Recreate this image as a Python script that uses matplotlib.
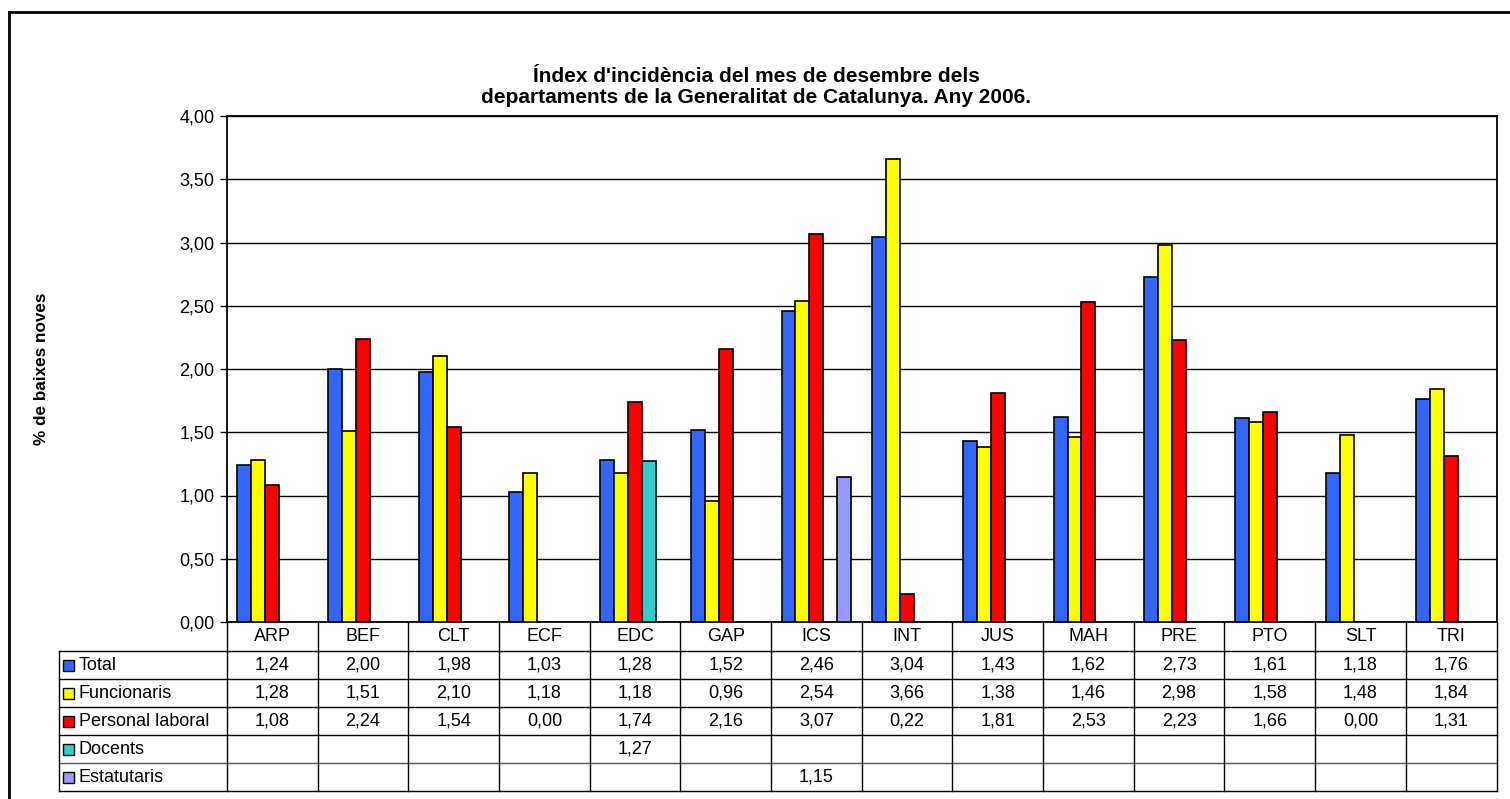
import matplotlib
matplotlib.use("Agg")
import matplotlib.pyplot as plt
from matplotlib.lines import Line2D
from matplotlib.patches import Rectangle

plt.rcParams['font.family'] = ['Liberation Sans', 'DejaVu Sans']

categories = ["ARP", "BEF", "CLT", "ECF", "EDC", "GAP", "ICS", "INT", "JUS", "MAH", "PRE", "PTO", "SLT", "TRI"]
series_names = ["Total", "Funcionaris", "Personal laboral", "Docents", "Estatutaris"]
total = [1.24, 2.00, 1.98, 1.03, 1.28, 1.52, 2.46, 3.04, 1.43, 1.62, 2.73, 1.61, 1.18, 1.76]
funcionaris = [1.28, 1.51, 2.10, 1.18, 1.18, 0.96, 2.54, 3.66, 1.38, 1.46, 2.98, 1.58, 1.48, 1.84]
laboral = [1.08, 2.24, 1.54, 0.00, 1.74, 2.16, 3.07, 0.22, 1.81, 2.53, 2.23, 1.66, 0.00, 1.31]
docents = [None, None, None, None, 1.27, None, None, None, None, None, None, None, None, None]
estatutaris = [None, None, None, None, None, None, 1.15, None, None, None, None, None, None, None]
colors = ["#3366FF", "#FFFF00", "#FF0000", "#33CCCC", "#9999FF"]
yticks = [0.0, 0.5, 1.0, 1.5, 2.0, 2.5, 3.0, 3.5, 4.0]
title_lines = ["Índex d'incidència del mes de desembre dels",
               "departaments de la Generalitat de Catalunya. Any 2006."]
ylabel = "% de baixes noves"

series = [total, funcionaris, laboral, docents, estatutaris]

W, H = 1510, 799
fig = plt.figure(figsize=(W / 100, H / 100), dpi=100)

def fx(px):
    return px / W

def fy(py):
    return (H - py) / H

ax_left, ax_right, ax_top, ax_bot = 227, 1496.5, 116, 622
ax = fig.add_axes([fx(ax_left), fy(ax_bot), fx(ax_right - ax_left), (ax_bot - ax_top) / H])

n = len(categories)
nser = len(series)
bw = 1.0 / (nser + 1.5)
for j, vals in enumerate(series):
    xs, hs = [], []
    for i, v in enumerate(vals):
        if v is None:
            continue
        xs.append(i - 0.5 + 0.75 * bw + j * bw + bw / 2)
        hs.append(v)
    ax.bar(xs, hs, width=bw, color=colors[j], edgecolor="black", linewidth=1.2, zorder=3)

FS = 13
ax.set_xlim(-0.5, n - 0.5)
ax.set_ylim(0, 4.0)
ax.set_yticks(yticks)
ax.set_yticklabels([f"{t:.2f}".replace('.', ',') for t in yticks], fontsize=FS)
ax.set_xticks([])
ax.tick_params(axis='y', direction='out', length=5, width=1, pad=4, color='black')
ax.grid(axis='y', color='black', linewidth=1.0, zorder=0)
for s in ax.spines.values():
    s.set_color('black')
    s.set_linewidth(1.3)

# Title and y label
fig.text(fx(756), fy(76), title_lines[0], ha='center', va='center', fontsize=15, fontweight='bold')
fig.text(fx(756), fy(97.5), title_lines[1], ha='center', va='center', fontsize=15, fontweight='bold')
fig.text(fx(42), fy(369), ylabel, ha='center', va='center', rotation=90,
         fontsize=12.3, fontweight='bold')

# Outer frame (cut off at right/bottom)
fig.add_artist(Line2D([fx(9), fx(W + 5)], [fy(12), fy(12)], color='black', lw=2.0))
fig.add_artist(Line2D([fx(9), fx(9)], [fy(12), fy(H + 5)], color='black', lw=2.0))

# Data table
trans = ax.get_xaxis_transform()
axh = ax_bot - ax_top
axw = ax_right - ax_left

def ay(py):
    return (ax_bot - py) / axh

row_edges = [622, 651, 679, 707, 735, 763, 791]
label_left = (59 - ax_left) / axw
atr = ax.transAxes

for k, yy in enumerate(row_edges[1:]):
    col = '#555555' if k == 4 else 'black'
    ax.add_artist(Line2D([label_left, 1.0], [ay(yy), ay(yy)], transform=atr,
                         color=col, lw=1.0, clip_on=False))
for b in range(n + 1):
    xb = b - 0.5
    ax.add_artist(Line2D([xb, xb], [ay(row_edges[0]), ay(row_edges[-1])], transform=trans,
                         color='black', lw=1.0, clip_on=False))
ax.add_artist(Line2D([label_left, label_left], [ay(row_edges[1]), ay(row_edges[-1])],
                     transform=atr, color='black', lw=1.0, clip_on=False))

yc = ay((row_edges[0] + row_edges[1]) / 2)
for i, c in enumerate(categories):
    ax.text(i, yc, c, transform=trans, ha='center', va='center', fontsize=FS, clip_on=False)

key_px = 11
for j, (name, vals) in enumerate(zip(series_names, series)):
    yc = ay((row_edges[j + 1] + row_edges[j + 2]) / 2)
    kx = (63 - ax_left) / axw
    ax.add_artist(Rectangle((kx, yc - key_px / axh / 2), key_px / axw, key_px / axh,
                            transform=atr, facecolor=colors[j], edgecolor='black', lw=1.0,
                            clip_on=False))
    ax.text((79 - ax_left) / axw, yc, name, transform=atr, ha='left', va='center',
            fontsize=FS, clip_on=False)
    for i, v in enumerate(vals):
        if v is None:
            continue
        ax.text(i, yc, f"{v:.2f}".replace('.', ','), transform=trans, ha='center',
                va='center', fontsize=FS, clip_on=False)

fig.savefig("out.png", dpi=100)
